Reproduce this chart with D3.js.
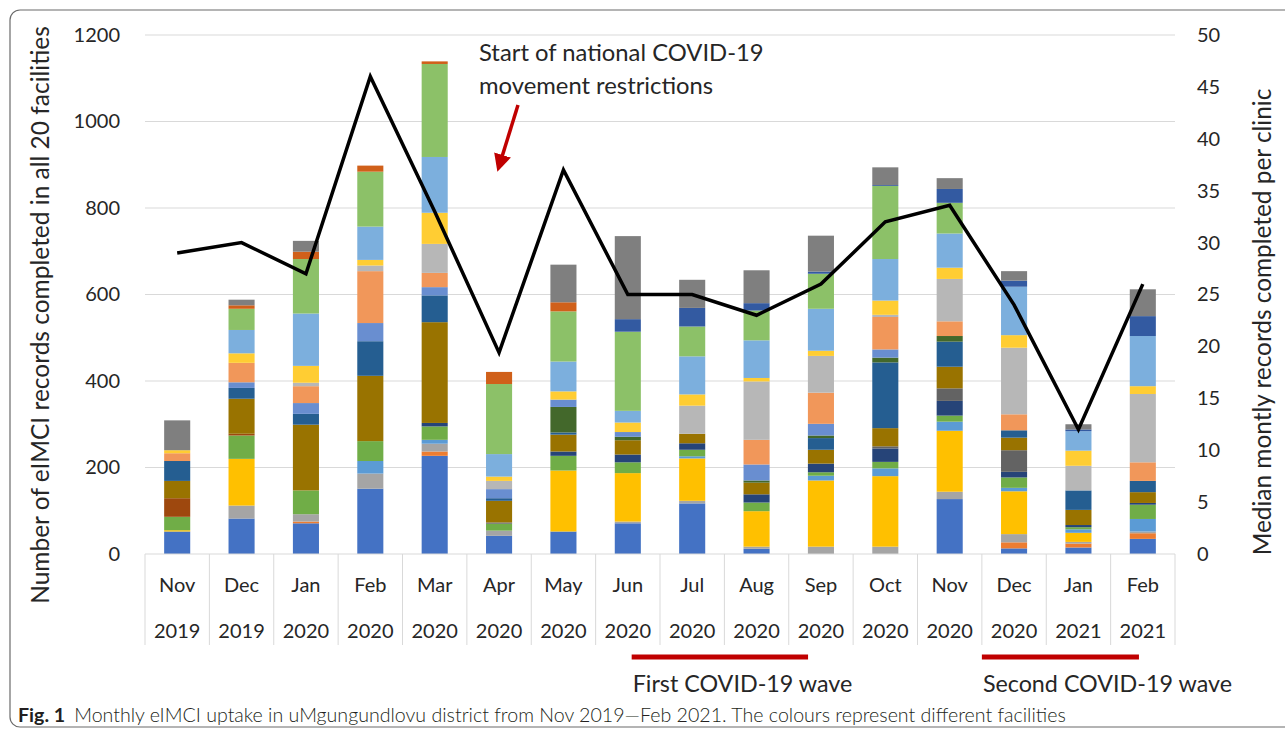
<!DOCTYPE html>
<html>
<head>
<meta charset="utf-8">
<title>Monthly eIMCI uptake</title>
<script src="https://d3js.org/d3.v7.min.js"></script>
<style>
  body { margin: 0; background: #fff; }
  text { font-family: Lato, "Open Sans", sans-serif; fill: #262626; }
  .grid line { stroke: #d9d9d9; stroke-width: 1; }
  .tick text { font-size: 20px; }
</style>
</head>
<body>
<div id="chart"></div>
<script>
// month categories (two-line labels)
const months = ["Nov", "Dec", "Jan", "Feb", "Mar", "Apr", "May", "Jun", "Jul", "Aug", "Sep", "Oct", "Nov", "Dec", "Jan", "Feb"];
const years = ["2019", "2019", "2020", "2020", "2020", "2020", "2020", "2020", "2020", "2020", "2020", "2020", "2020", "2020", "2021", "2021"];

// records per facility per month (stack order, bottom first)
const f1  = [52, 82, 71, 151, 227, 42, 52, 71, 117, 12, 0, 0, 127, 13, 15, 35];
const f2  = [0, 0, 4, 0, 10, 0, 0, 0, 0, 0, 0, 0, 0, 14, 9, 13];
const f3  = [0, 30, 17, 35, 18, 12, 0, 4, 6, 5, 17, 17, 17, 19, 4, 4];
const f4  = [3, 108, 0, 0, 0, 0, 141, 112, 98, 82, 153, 163, 141, 99, 21, 0];
const f5  = [0, 0, 0, 29, 9, 0, 0, 0, 5, 0, 11, 18, 21, 8, 8, 29];
const f6  = [31, 54, 55, 46, 31, 16, 34, 25, 15, 20, 8, 15, 14, 24, 5, 33];
const f7  = [0, 0, 0, 0, 8, 0, 10, 18, 15, 19, 20, 31, 34, 13, 5, 4];
const f8  = [43, 4, 0, 0, 0, 0, 0, 0, 0, 0, 0, 0, 0, 0, 0, 0];
const f9  = [0, 0, 0, 0, 0, 3, 0, 0, 0, 0, 0, 5, 29, 50, 0, 0];
const f10 = [40, 81, 152, 151, 233, 50, 39, 33, 22, 27, 32, 42, 50, 29, 35, 25];
const f11 = [46, 25, 25, 80, 62, 6, 5, 0, 0, 0, 27, 152, 58, 17, 45, 26];
const f12 = [0, 0, 0, 0, 0, 0, 59, 8, 0, 5, 6, 11, 13, 0, 0, 0];
const f13 = [0, 13, 25, 42, 19, 21, 17, 11, 0, 37, 27, 19, 0, 0, 0, 0];
const f14 = [18, 45, 39, 120, 33, 0, 0, 0, 0, 57, 72, 75, 34, 37, 0, 43];
const f15 = [0, 0, 8, 13, 67, 19, 0, 0, 65, 135, 85, 5, 98, 154, 57, 158];
const f16 = [7, 22, 39, 13, 72, 10, 19, 22, 26, 8, 12, 33, 26, 29, 35, 18];
const f17 = [0, 54, 121, 77, 129, 52, 69, 27, 88, 87, 97, 96, 79, 112, 45, 116];
const f18 = [0, 49, 126, 127, 215, 162, 116, 183, 69, 69, 81, 169, 71, 0, 0, 0];
const f19 = [0, 0, 0, 0, 0, 0, 0, 29, 43, 17, 5, 2, 32, 14, 4, 46];
const f20 = [0, 8, 17, 14, 6, 28, 21, 0, 0, 0, 0, 0, 0, 0, 0, 0];
const f21 = [69, 13, 25, 0, 0, 0, 87, 192, 65, 76, 83, 41, 25, 22, 12, 62];

const facilities = [f1, f2, f3, f4, f5, f6, f7, f8, f9, f10, f11, f12, f13, f14, f15, f16, f17, f18, f19, f20, f21];
const colors = ["#4472C4", "#ED7D31", "#A5A5A5", "#FFC000", "#5B9BD5", "#70AD47", "#264478", "#9E480E", "#636363", "#997300", "#255E91", "#43682B",
                "#698ED0", "#F1975A", "#B7B7B7", "#FFCD33", "#7CAFDD", "#8CC168", "#335AA1", "#D0601A", "#7F7F7F"];

// median monthly records per clinic (right axis)
const median = [29, 30, 27, 46, 33, 19.4, 37, 25, 25, 23, 26, 32, 33.6, 24, 12, 26];

const leftTicks = [0, 200, 400, 600, 800, 1000, 1200];
const rightTicks = [0, 5, 10, 15, 20, 25, 30, 35, 40, 45, 50];

// COVID periods, in category units along the axis
const waveNames = ["First COVID-19 wave", "Second COVID-19 wave"];
const waveStart = [7.56, 13.0];
const waveEnd = [10.3, 15.44];

const width = 1285, height = 732;
const margin = { left: 145, right: 110, top: 35, bottom: 178 };

const svg = d3.select("#chart").append("svg")
    .attr("width", width)
    .attr("height", height);

// outer frame
svg.append("rect")
    .attr("x", 10).attr("y", 10)
    .attr("width", 1300).attr("height", 717)
    .attr("rx", 10)
    .attr("fill", "none")
    .attr("stroke", "#6b6b6b")
    .attr("stroke-width", 1.2);

const x = d3.scaleBand()
    .domain(d3.range(months.length))
    .range([margin.left, width - margin.right])
    .paddingInner(0.595)
    .paddingOuter(0.2975);

const xb = d3.scaleBand()
    .domain(d3.range(months.length))
    .range([margin.left, width - margin.right]);

// continuous version of the category axis
const xc = d3.scaleLinear()
    .domain([0, months.length])
    .range([margin.left, width - margin.right]);

const y = d3.scaleLinear().domain([0, 1200]).range([height - margin.bottom, margin.top]);
const y2 = d3.scaleLinear().domain([0, 50]).range([height - margin.bottom, margin.top]);

// gridlines
svg.append("g")
    .attr("class", "grid")
    .selectAll("line")
    .data(leftTicks.slice(1))
    .join("line")
    .attr("x1", margin.left).attr("x2", width - margin.right)
    .attr("y1", d => y(d)).attr("y2", d => y(d));

// stacked bars
const rows = months.map((m, i) => {
    const r = { i: i };
    facilities.forEach((f, k) => r["f" + k] = f[i]);
    return r;
});
const keys = facilities.map((f, k) => "f" + k);
const stacked = d3.stack().keys(keys)(rows);

svg.append("g")
    .selectAll("g")
    .data(stacked)
    .join("g")
    .attr("fill", (d, k) => colors[k])
    .selectAll("rect")
    .data(d => d)
    .join("rect")
    .attr("x", d => x(d.data.i))
    .attr("width", x.bandwidth())
    .attr("y", d => y(d[1]))
    .attr("height", d => y(d[0]) - y(d[1]));

// category table below the axis
const base = y(0);
svg.append("line")
    .attr("x1", margin.left).attr("x2", width - margin.right)
    .attr("y1", base).attr("y2", base)
    .attr("stroke", "#d9d9d9");

svg.append("g")
    .selectAll("line")
    .data(d3.range(months.length + 1))
    .join("line")
    .attr("x1", d => xc(d))
    .attr("x2", d => xc(d))
    .attr("y1", base).attr("y2", base + 91)
    .attr("stroke", "#d9d9d9");

svg.append("g")
    .selectAll("text")
    .data(months)
    .join("text")
    .attr("x", (d, i) => xb(i) + xb.bandwidth() / 2)
    .attr("y", base + 38)
    .attr("text-anchor", "middle")
    .style("font-size", "20px")
    .text(d => d);

svg.append("g")
    .selectAll("text")
    .data(years)
    .join("text")
    .attr("x", (d, i) => xb(i) + xb.bandwidth() / 2)
    .attr("y", base + 84)
    .attr("text-anchor", "middle")
    .style("font-size", "20px")
    .text(d => d);

// left axis
const leftAxis = svg.append("g")
    .attr("transform", `translate(${margin.left},0)`)
    .call(d3.axisLeft(y).tickValues(leftTicks).tickFormat(d3.format("d")).tickSize(0).tickPadding(25));
leftAxis.select(".domain").remove();

// right axis
const rightAxis = svg.append("g")
    .attr("transform", `translate(${width - margin.right},0)`)
    .call(d3.axisRight(y2).tickValues(rightTicks).tickSize(0).tickPadding(22));
rightAxis.select(".domain").remove();

// median line
const line = d3.line()
    .x((d, i) => xb(i) + xb.bandwidth() / 2)
    .y(d => y2(d));

svg.append("path")
    .datum(median)
    .attr("d", line)
    .attr("fill", "none")
    .attr("stroke", "#000")
    .attr("stroke-width", 3.5)
    .attr("stroke-linejoin", "miter");

// axis titles
svg.append("text")
    .attr("transform", `translate(49,315) rotate(-90)`)
    .attr("text-anchor", "middle")
    .style("font-size", "24.5px")
    .text("Number of eIMCI records completed in all 20 facilities");

svg.append("text")
    .attr("transform", `translate(1271,322) rotate(-90)`)
    .attr("text-anchor", "middle")
    .style("font-size", "24.4px")
    .text("Median montly records completed per clinic");

// annotation
svg.append("text")
    .attr("x", 479).attr("y", 61)
    .style("font-size", "23.8px")
    .text("Start of national COVID-19");
svg.append("text")
    .attr("x", 479).attr("y", 94)
    .style("font-size", "23.8px")
    .text("movement restrictions");

svg.append("defs").append("marker")
    .attr("id", "arrow")
    .attr("viewBox", "0 0 10 10")
    .attr("refX", 3).attr("refY", 5)
    .attr("markerWidth", 5).attr("markerHeight", 5)
    .attr("orient", "auto")
    .append("path")
    .attr("d", "M0,0 L10,5 L0,10 Z")
    .attr("fill", "#C00000");

svg.append("line")
    .attr("x1", 518).attr("y1", 105)
    .attr("x2", 501).attr("y2", 160)
    .attr("stroke", "#C00000")
    .attr("stroke-width", 3.5)
    .attr("marker-end", "url(#arrow)");

// COVID wave bars
waveNames.forEach((name, k) => {
    const x0 = xc(waveStart[k]);
    const x1 = xc(waveEnd[k]);
    svg.append("line")
        .attr("x1", x0).attr("x2", x1)
        .attr("y1", 657).attr("y2", 657)
        .attr("stroke", "#C00000")
        .attr("stroke-width", 5);
    svg.append("text")
        .attr("x", x0 + 1).attr("y", 692)
        .style("font-size", "23.3px")
        .text(name);
});

// caption
const cap = svg.append("text")
    .attr("x", 18).attr("y", 722)
    .style("font-size", "19.6px")
    .style("fill", "#231f20");
cap.append("tspan").style("font-weight", "bold").text("Fig. 1");
cap.append("tspan").attr("dx", 9).style("font-weight", 300)
    .text("Monthly eIMCI uptake in uMgungundlovu district from Nov 2019\u2014Feb 2021. The colours represent different facilities");
</script>
</body>
</html>
